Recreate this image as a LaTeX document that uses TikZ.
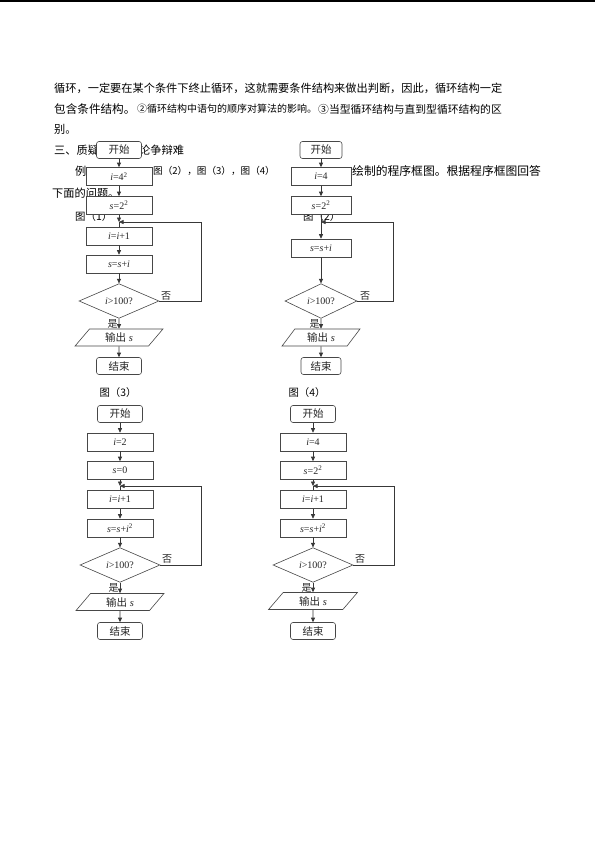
\documentclass[tikz,border=0pt]{standalone}
\usepackage{fontspec}
\setmainfont{Liberation Serif}
\newfontfamily\cjk{Noto Sans CJK SC}
\usetikzlibrary{arrows.meta,shapes.geometric}
\newcommand{\fs}[1]{\fontsize{#1}{#1}\selectfont}
\begin{document}
\begin{tikzpicture}[x=1pt,y=-1pt,
  txt/.style={anchor=west, inner sep=0pt, font=\cjk\fs{11.2}, text=black},
  proc/.style={rectangle, draw=black!72, line width=0.6pt, fill=white, minimum width=66pt, minimum height=18pt, inner sep=0pt, font=\fs{10}, text=black!85},
  term/.style={proc, rounded corners=2.5pt, minimum width=45pt, minimum height=17pt, font=\cjk\fs{10.5}},
  dec/.style={diamond, draw=black!72, line width=0.6pt, fill=white, minimum width=80pt, minimum height=34pt, inner sep=0pt, font=\fs{10}, text=black!85},
  io/.style={trapezium, trapezium left angle=55, trapezium right angle=125, trapezium stretches=true, draw=black!72, line width=0.6pt, fill=white, minimum width=88pt, minimum height=17pt, inner sep=0pt, font=\fs{10.5}, text=black!85},
  arr/.style={draw=black!78, line width=0.6pt, -{Triangle[length=4.5pt,width=4pt]}},
  ln/.style={draw=black!78, line width=0.6pt},
  lbl/.style={inner sep=0pt, font=\cjk\fs{10}, text=black!85}
]
\useasboundingbox (0,0) rectangle (595,841);
\fill[white] (0,0) rectangle (595,841);
\draw[line width=1.2pt] (0,1) -- (595,1);

% body text
\node[txt] (l1) at (54,88) {循环，一定要在某个条件下终止循环，这就需要条件结构来做出判断，因此，循环结构一定};
\node[txt, font=\cjk\fs{11.6}] (l2a) at (54,109) {包含条件结构。};
\node[txt, font=\cjk\fs{10}] (l2b) at (137,109) {②循环结构中语句的顺序对算法的影响。};
\node[txt, font=\cjk\fs{10.8}] (l2c) at (318,109) {③当型循环结构与直到型循环结构的区};
\node[txt] (l3) at (54,129) {别。};
\node[txt] (l4a) at (54,150) {三、质疑};
\node[txt] (l4b) at (139,150) {论争辩难};
\node[txt] (l5a) at (75,171) {例};
\node[txt, font=\cjk\fs{9.6}] (l5b) at (153,171) {图（2），图（3），图（4）};
\node[txt, font=\cjk\fs{11.8}] (l5c) at (352,171) {绘制的程序框图。根据程序框图回答};
\node[txt] (l6) at (52,193) {下面的问题。};
\node[txt, font=\cjk\fs{10.4}] (f1) at (75,217) {图（1）};
\node[txt, font=\cjk\fs{10.4}] (f2) at (303,217) {图（2）};
\node[txt, anchor=center, font=\cjk\fs{10.4}] (f3) at (118,393) {图（3）};
\node[txt, anchor=center, font=\cjk\fs{10.4}] (f4) at (307,393) {图（4）};

% ---------- figure 1 ----------
\node[term] (s1) at (119,150) {开始};
\node[proc] (a1) at (119,176.5) {\textit{i}=4\textsuperscript{2}};
\node[proc] (b1) at (119,205.5) {\textit{s}=2\textsuperscript{2}};
\coordinate (j1) at (119,222);
\node[proc] (c1) at (119,236) {\textit{i}=\textit{i}+1};
\node[proc] (d1) at (119,264) {\textit{s}=\textit{s}+\textit{i}};
\node[dec] (e1) at (119,301) {\textit{i}>100?};
\node[io] (o1) at (119,337.5) {{\cjk 输出} \textit{s}};
\node[term] (t1) at (119,366) {结束};
\coordinate (r1) at (201,222);
\draw[arr] (s1) -- (a1);
\draw[arr] (a1) -- (b1);
\draw[arr] (b1) -- (j1);
\draw[ln] (j1) -- (c1);
\draw[arr] (c1) -- (d1);
\draw[arr] (d1) -- (e1);
\draw[arr] (e1) -- node[lbl, left=1pt] {是} (o1);
\draw[arr] (o1) -- (t1);
\draw[arr] (e1.east) -| (r1) -- (j1);
\node[lbl] (n1) at (166,296) {否};

% ---------- figure 2 ----------
\node[term, minimum width=42pt] (s2) at (321,150) {开始};
\node[proc, minimum width=60pt] (a2) at (321,176.5) {\textit{i}=4};
\node[proc, minimum width=60pt] (b2) at (321,205.5) {\textit{s}=2\textsuperscript{2}};
\coordinate (j2) at (321,222);
\node[proc, minimum width=60pt] (c2) at (321,248) {\textit{s}=\textit{s}+\textit{i}};
\node[dec, minimum width=72pt] (e2) at (321,301) {\textit{i}>100?};
\node[io, minimum width=78pt] (o2) at (321,337.5) {{\cjk 输出} \textit{s}};
\node[term, minimum width=40pt] (t2) at (321,366) {结束};
\coordinate (r2) at (393,222);
\draw[arr] (s2) -- (a2);
\draw[arr] (a2) -- (b2);
\draw[arr] (b2) -- (c2);
\draw[arr] (c2) -- (e2);
\draw[arr] (e2) -- node[lbl, left=1pt] {是} (o2);
\draw[arr] (o2) -- (t2);
\draw[arr] (e2.east) -| (r2) -- (j2);
\node[lbl] (n2) at (365,296) {否};

% ---------- figure 3 ----------
\node[term] (s3) at (120,414) {开始};
\node[proc] (a3) at (120,442) {\textit{i}=2};
\node[proc] (b3) at (120,470.5) {\textit{s}=0};
\coordinate (j3) at (120,486);
\node[proc] (c3) at (120,499.5) {\textit{i}=\textit{i}+1};
\node[proc] (d3) at (120,528) {\textit{s}=\textit{s}+\textit{i}\textsuperscript{2}};
\node[dec] (e3) at (120,565) {\textit{i}>100?};
\node[io] (o3) at (120,602) {{\cjk 输出} \textit{s}};
\node[term] (t3) at (120,631) {结束};
\coordinate (r3) at (201,486);
\draw[arr] (s3) -- (a3);
\draw[arr] (a3) -- (b3);
\draw[arr] (b3) -- (j3);
\draw[ln] (j3) -- (c3);
\draw[arr] (c3) -- (d3);
\draw[arr] (d3) -- (e3);
\draw[arr] (e3) -- node[lbl, left=1pt] {是} (o3);
\draw[arr] (o3) -- (t3);
\draw[arr] (e3.east) -| (r3) -- (j3);
\node[lbl] (n3) at (167,559) {否};

% ---------- figure 4 ----------
\node[term] (s4) at (313,414) {开始};
\node[proc] (a4) at (313,442) {\textit{i}=4};
\node[proc] (b4) at (313,470.5) {\textit{s}=2\textsuperscript{2}};
\coordinate (j4) at (313,486);
\node[proc] (c4) at (313,499.5) {\textit{i}=\textit{i}+1};
\node[proc] (d4) at (313,528) {\textit{s}=\textit{s}+\textit{i}\textsuperscript{2}};
\node[dec] (e4) at (313,565) {\textit{i}>100?};
\node[io, minimum width=89pt] (o4) at (313,601) {{\cjk 输出} \textit{s}};
\node[term] (t4) at (313,631) {结束};
\coordinate (r4) at (394,486);
\draw[arr] (s4) -- (a4);
\draw[arr] (a4) -- (b4);
\draw[arr] (b4) -- (j4);
\draw[ln] (j4) -- (c4);
\draw[arr] (c4) -- (d4);
\draw[arr] (d4) -- (e4);
\draw[arr] (e4) -- node[lbl, left=1pt] {是} (o4);
\draw[arr] (o4) -- (t4);
\draw[arr] (e4.east) -| (r4) -- (j4);
\node[lbl] (n4) at (360,559) {否};
\end{tikzpicture}
\end{document}
